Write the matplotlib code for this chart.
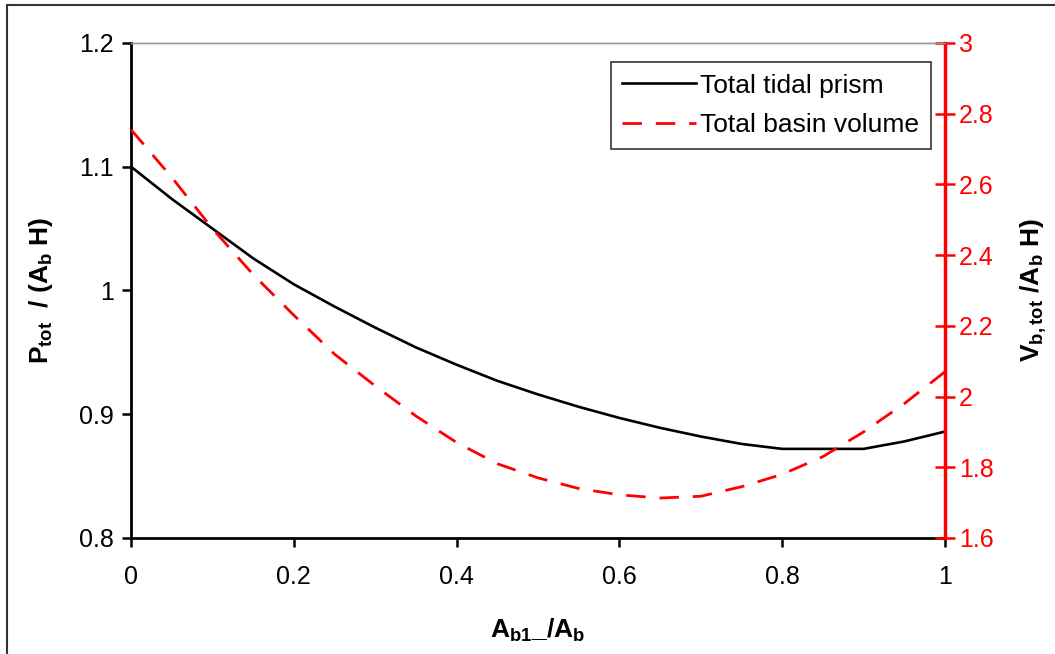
import matplotlib
matplotlib.use("Agg")
from matplotlib import pyplot as plt
from matplotlib.patches import Rectangle

plt.rcParams['font.family'] = ['Liberation Sans', 'DejaVu Sans']
plt.rcParams['mathtext.fontset'] = 'custom'
plt.rcParams['mathtext.rm'] = 'Liberation Sans'
plt.rcParams['mathtext.bf'] = 'Liberation Sans:bold'
plt.rcParams['mathtext.default'] = 'bf'

# A_b1 / A_b
ratio = [0.0, 0.05, 0.1, 0.15, 0.2, 0.25, 0.3, 0.35, 0.4, 0.45, 0.5,
         0.55, 0.6, 0.65, 0.7, 0.75, 0.8, 0.85, 0.9, 0.95, 1.0]
tidal_prism = [1.100, 1.074, 1.050, 1.026, 1.005, 0.987, 0.970, 0.954, 0.940, 0.927, 0.916,
               0.906, 0.897, 0.889, 0.882, 0.876, 0.872, 0.872, 0.872, 0.878, 0.886]
basin_volume = [2.755, 2.620, 2.475, 2.345, 2.230, 2.120, 2.030, 1.945, 1.870, 1.810, 1.770,
                1.740, 1.722, 1.713, 1.718, 1.745, 1.780, 1.830, 1.900, 1.980, 2.070]

x_ticks = [0, 0.2, 0.4, 0.6, 0.8, 1]
x_labels = ['0', '0.2', '0.4', '0.6', '0.8', '1']
left_ticks = [0.8, 0.9, 1.0, 1.1, 1.2]
left_labels = ['0.8', '0.9', '1', '1.1', '1.2']
right_ticks = [1.6, 1.8, 2.0, 2.2, 2.4, 2.6, 2.8, 3.0]
right_labels = ['1.6', '1.8', '2', '2.2', '2.4', '2.6', '2.8', '3']

fig = plt.figure(figsize=(10.55, 6.54), dpi=100)
ax = fig.add_axes([0.1242, 0.1774, 0.7715, 0.7569])
ax2 = ax.twinx()

# outer frame of the picture (only top and left edges visible)
fig.patches.append(Rectangle((7 / 1055, -0.2), 1.2, 1.2 - 5 / 654,
                             transform=fig.transFigure, fill=False,
                             edgecolor='#333333', linewidth=1.5))

l1, = ax.plot(ratio, tidal_prism, color='black', lw=1.9, label='Total tidal prism')
l2, = ax2.plot(ratio, basin_volume, color='red', lw=2.0, dashes=(7, 5),
               label='Total basin volume')

ax.set_xlim(0, 1)
ax.set_ylim(0.8, 1.2)
ax2.set_ylim(1.6, 3.0)

ax.set_xticks(x_ticks, x_labels)
ax.set_yticks(left_ticks, left_labels)
ax2.set_yticks(right_ticks, right_labels)

ax.tick_params(axis='both', direction='out', length=6.5, width=1.8, labelsize=18,
               colors='black', pad=6)
ax.tick_params(axis='x', pad=13)
ax2.tick_params(axis='y', direction='inout', length=14, width=1.8, labelsize=18,
                colors='red', pad=3)

for a in (ax, ax2):
    a.spines['top'].set_color('#999999')
    a.spines['top'].set_linewidth(1)
ax.spines['left'].set_linewidth(2)
ax.spines['bottom'].set_linewidth(2)
ax2.spines['right'].set_color('red')
ax2.spines['right'].set_linewidth(2.5)
ax2.spines['left'].set_visible(False)
ax2.spines['bottom'].set_visible(False)

ax.set_xlabel(r'A$_{b1}$_/A$_b$', fontsize=19, fontweight='bold', labelpad=20)
ax.set_ylabel(r'P$_{tot}$  / (A$_b$ H)', fontsize=19, fontweight='bold', labelpad=17)
ax2.set_ylabel(r'V$_{b,tot}$ /A$_b$ H)', fontsize=19, fontweight='bold', labelpad=18,
               color='black')

leg = ax.legend(handles=[l1, l2], loc='upper right', bbox_to_anchor=(0.983, 0.962),
                fontsize=19, frameon=True, fancybox=False, handlelength=2.8,
                handletextpad=0.15, borderpad=0.45, labelspacing=0.6,
                borderaxespad=0)
leg.get_frame().set_edgecolor('black')
leg.get_frame().set_linewidth(1.2)

fig.savefig('out.png', dpi=100)
